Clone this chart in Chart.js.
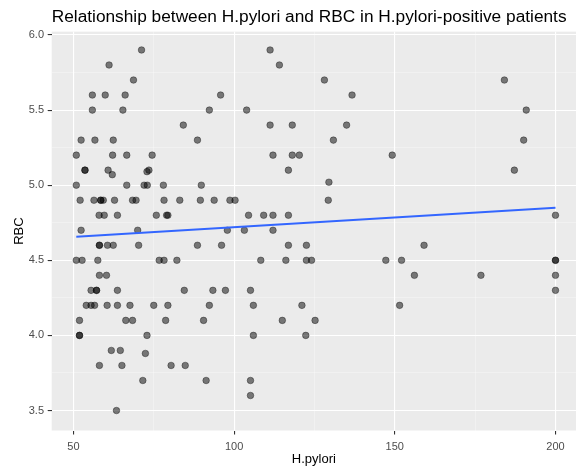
<!DOCTYPE html>
<html><head><meta charset="utf-8">
<script src="https://cdn.jsdelivr.net/npm/chart.js@4"></script>
<style>html,body{margin:0;padding:0;background:#fff}#wrap{width:576px;height:467px}</style>
</head><body><div id="wrap"><canvas id="c" width="576" height="467"></canvas></div>
<script>
const titleText = "Relationship between H.pylori and RBC in H.pylori-positive patients";
const xTitle = "H.pylori";
const yTitle = "RBC";

const hpylori = [
  71.2,61.1,68.7,55.9,59.9,66.1,55.9,65.4,52.4,56.7,62.4,50.9,62.2,66.6,74.5,53.6,53.6,60.8,62.1,72.9,73.5,
  50.9,66.6,72.0,73.0,78.0,52.1,56.4,58.5,58.5,59.3,62.8,68.4,69.5,78.2,58.0,59.6,63.7,75.8,79.0,79.4,
  52.4,70.0,58.1,58.1,60.6,62.4,70.3,50.9,52.7,57.6,76.7,78.2,58.1,60.3,55.5,57.2,57.2,63.7,
  54.0,55.5,56.6,60.5,63.7,67.6,75.0,79.4,51.9,66.3,68.4,78.7,51.9,51.9,72.9,61.8,64.6,72.4,58.1,65.1,80.4,71.6,63.4,
  111.2,114.1,95.8,92.3,103.9,84.2,111.2,88.6,112.1,116.9,89.8,83.1,89.5,93.8,98.7,100.3,104.5,109.2,112.1,116.9,
  97.9,103.2,112.1,88.6,96.1,116.9,82.2,108.3,116.1,84.5,93.4,97.3,105.1,92.3,106.0,90.5,115.0,106.0,84.8,91.3,105.1,105.1,
  128.1,136.7,118.1,135.0,130.9,118.1,120.3,149.2,129.5,129.3,122.5,122.5,124.1,147.2,152.1,121.1,151.5,125.2,122.3,
  184.1,190.9,190.1,187.2,200,159.1,156.1,176.8,200,200,200,200
];
const rbc = [
  5.9,5.8,5.7,5.6,5.6,5.6,5.5,5.5,5.3,5.3,5.3,5.2,5.2,5.2,5.2,5.1,5.1,5.1,5.07,5.09,5.1,
  5.0,5.0,5.0,5.0,5.0,4.9,4.9,4.9,4.9,4.9,4.9,4.9,4.9,4.9,4.8,4.8,4.8,4.8,4.8,4.8,
  4.7,4.7,4.6,4.6,4.6,4.6,4.6,4.5,4.5,4.5,4.5,4.5,4.4,4.4,4.3,4.3,4.3,4.3,
  4.2,4.2,4.2,4.2,4.2,4.2,4.2,4.2,4.1,4.1,4.1,4.1,4.0,4.0,4.0,3.9,3.9,3.88,3.8,3.8,3.8,3.7,3.5,
  5.9,5.8,5.6,5.5,5.5,5.4,5.4,5.3,5.2,5.1,5.0,4.9,4.9,4.9,4.9,4.9,4.8,4.8,4.8,4.8,
  4.7,4.7,4.7,4.6,4.6,4.6,4.5,4.5,4.5,4.3,4.3,4.3,4.3,4.2,4.2,4.1,4.1,4.0,3.8,3.7,3.7,3.6,
  5.7,5.6,5.4,5.4,5.3,5.2,5.2,5.2,5.02,4.9,4.6,4.5,4.5,4.5,4.5,4.2,4.2,4.1,4.0,
  5.7,5.5,5.3,5.1,4.8,4.6,4.4,4.4,4.5,4.5,4.4,4.3
];

// fitted regression line endpoints
const fitX = [50.9, 200];
const fitY = [4.657, 4.850];

const xTicks = [50, 75, 100, 125, 150, 175, 200];
const xLabeled = [50, 100, 150, 200];
const yTicks = [3.5, 3.75, 4, 4.25, 4.5, 4.75, 5, 5.25, 5.5, 5.75, 6];
const yLabeled = [3.5, 4, 4.5, 5, 5.5, 6];

const FONT = "'Liberation Sans', Arial, sans-serif";
const isMajX = v => xLabeled.includes(v);
const isMajY = v => yLabeled.some(t => Math.abs(t - v) < 1e-9);

const panelBg = {
  id: 'panelBg',
  beforeDraw(chart) {
    const {ctx, chartArea: a} = chart;
    ctx.save();
    ctx.fillStyle = '#ebebeb';
    ctx.fillRect(a.left, a.top, a.right - a.left, a.bottom - a.top);
    ctx.restore();
  }
};

const points = hpylori.map((x, i) => ({x: x, y: rbc[i]}));
const fitLine = fitX.map((x, i) => ({x: x, y: fitY[i]}));

new Chart(document.getElementById('c'), {
  type: 'scatter',
  data: {
    datasets: [
      {
        type: 'line', data: fitLine, order: 0,
        borderColor: '#3366FF', borderWidth: 2, pointRadius: 0, fill: false, tension: 0
      },
      {
        data: points, order: 1,
        pointRadius: 3.3, pointHoverRadius: 3.3,
        backgroundColor: 'rgba(0,0,0,0.5)', borderColor: 'rgba(0,0,0,0.35)', borderWidth: 1
      }
    ]
  },
  options: {
    responsive: false, animation: false, devicePixelRatio: 1,
    layout: {padding: 0, autoPadding: false},
    plugins: {
      legend: {display: false}, tooltip: {enabled: false},
      title: {
        display: true, text: titleText, align: 'start', fullSize: false, color: '#000',
        font: {family: FONT, size: 17.3, weight: 'normal'}, padding: {top: 6.4, bottom: 4.5}
      }
    },
    scales: {
      x: {
        type: 'linear', min: 43.25, max: 206.38,
        afterBuildTicks(s) { s.ticks = xTicks.map(v => ({value: v})); },
        afterFit(s) { s.height = 36.5; s.paddingLeft = 0; s.paddingRight = 0; },
        border: {display: false},
        grid: {
          color: c => (c.tick && isMajX(c.tick.value)) ? '#ffffff' : 'rgba(255,255,255,0.6)',
          lineWidth: c => (c.tick && isMajX(c.tick.value)) ? 1.1 : 0.55,
          tickColor: c => (c.tick && isMajX(c.tick.value)) ? '#333333' : 'rgba(0,0,0,0)',
          tickLength: 4, drawTicks: true
        },
        ticks: {
          autoSkip: false, maxRotation: 0, padding: 5.5, color: '#4d4d4d',
          font: {family: FONT, size: 11},
          callback: v => isMajX(v) ? String(v) : ''
        },
        title: {display: true, text: xTitle, color: '#000', font: {family: FONT, size: 13}, padding: {top: 0, bottom: 0}}
      },
      y: {
        type: 'linear', min: 3.367, max: 6.022,
        afterBuildTicks(s) { s.ticks = yTicks.map(v => ({value: v})); },
        afterFit(s) { s.width = 51.7; s.paddingTop = 0; s.paddingBottom = 0; },
        border: {display: false},
        grid: {
          color: c => (c.tick && isMajY(c.tick.value)) ? '#ffffff' : 'rgba(255,255,255,0.6)',
          lineWidth: c => (c.tick && isMajY(c.tick.value)) ? 1.1 : 0.55,
          tickColor: c => (c.tick && isMajY(c.tick.value)) ? '#333333' : 'rgba(0,0,0,0)',
          tickLength: 4, drawTicks: true
        },
        ticks: {
          autoSkip: false, padding: 3.7, color: '#4d4d4d',
          font: {family: FONT, size: 11},
          callback: v => isMajY(v) ? v.toFixed(1) : ''
        },
        title: {display: true, text: yTitle, color: '#000', font: {family: FONT, size: 13}, padding: {top: 12, bottom: 0}}
      }
    }
  },
  plugins: [panelBg]
});
</script></body></html>
